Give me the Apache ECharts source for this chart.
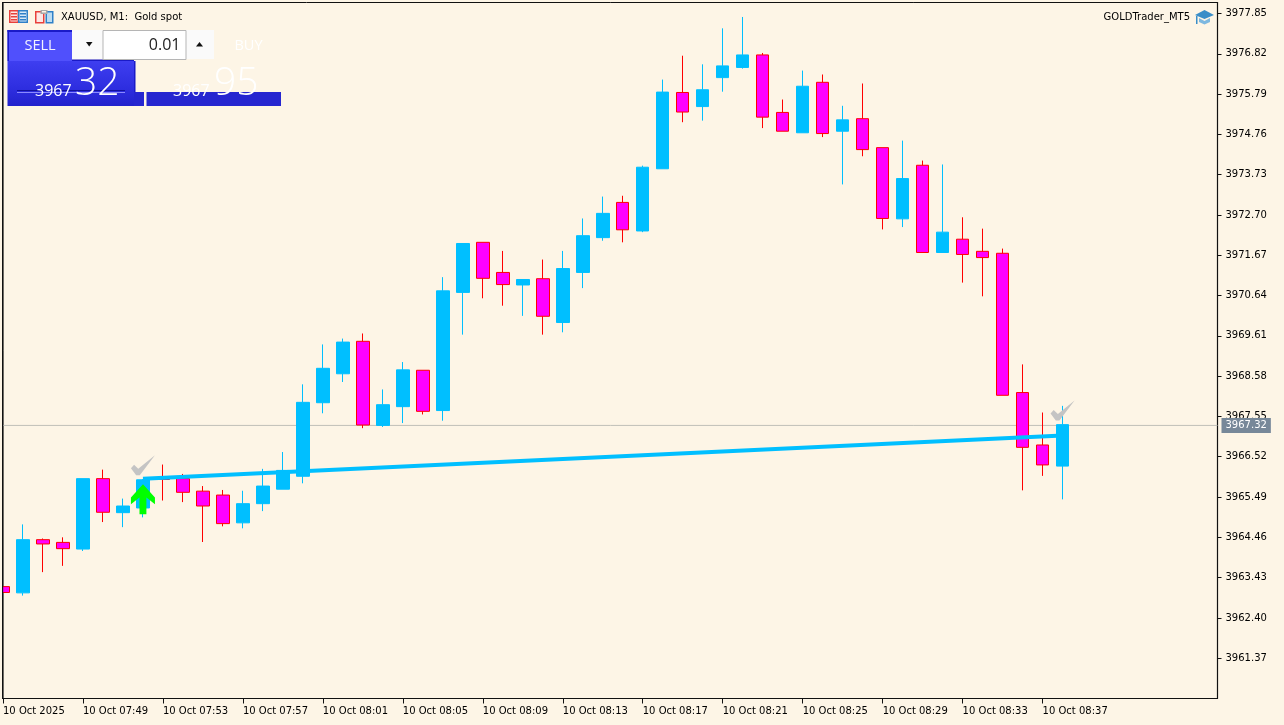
<!DOCTYPE html>
<html>
<head>
<meta charset="utf-8">
<title>XAUUSD, M1</title>
<script src="https://cdn.jsdelivr.net/npm/echarts@6/dist/echarts.min.js"></script>
<style>
  html, body { margin: 0; padding: 0; background: #fdf5e6; }
  #main { width: 1284px; height: 725px; }
</style>
</head>
<body>
<div id="main"></div>
<script>
// one candle per minute, index 0 = 07:45
const opens = [3963.20,3963.04,3964.40,3964.33,3964.16,3965.96,3965.09,3965.21,3965.99,3965.96,3965.64,3965.54,3964.83,3965.32,3965.69,3966.02,3967.90,3968.64,3969.47,3967.32,3967.80,3968.73,3967.70,3970.72,3972.00,3971.23,3970.91,3971.07,3969.95,3971.23,3972.12,3973.02,3972.29,3973.88,3975.83,3975.47,3976.21,3976.47,3976.79,3975.32,3974.80,3976.09,3974.84,3975.16,3974.42,3972.60,3973.97,3971.74,3972.08,3971.77,3971.72,3968.16,3966.82,3966.28];
const closes = [3963.05,3964.40,3964.29,3964.17,3965.96,3965.10,3965.26,3965.93,3965.94,3965.61,3965.26,3964.81,3965.32,3965.77,3966.17,3967.91,3968.78,3969.45,3967.33,3967.85,3968.74,3967.68,3970.76,3971.97,3971.08,3970.92,3971.05,3970.11,3971.33,3972.17,3972.74,3972.32,3973.92,3975.84,3975.33,3975.90,3976.51,3976.79,3975.20,3974.84,3975.99,3974.78,3975.13,3974.37,3972.61,3973.63,3971.74,3972.26,3971.69,3971.61,3968.09,3966.76,3966.31,3967.34];
const lows = [3963.05,3962.97,3963.57,3963.73,3964.11,3964.85,3964.72,3964.97,3965.40,3965.36,3964.34,3964.74,3964.69,3965.13,3965.69,3965.84,3967.63,3968.43,3967.25,3967.28,3967.38,3967.60,3967.44,3969.64,3970.57,3970.38,3970.12,3969.64,3969.70,3970.83,3972.04,3972.00,3972.26,3973.88,3975.07,3975.11,3975.85,3976.44,3974.92,3974.84,3974.80,3974.69,3973.48,3974.20,3972.33,3972.39,3971.74,3971.74,3970.97,3970.62,3968.09,3965.66,3966.03,3965.43];
const highs = [3963.20,3964.79,3964.43,3964.46,3965.96,3966.19,3965.45,3965.95,3966.32,3966.08,3965.77,3965.67,3965.65,3966.21,3966.64,3968.37,3969.39,3969.54,3969.67,3968.24,3968.94,3968.73,3971.11,3971.97,3972.00,3971.78,3971.05,3971.56,3971.78,3972.61,3973.17,3973.19,3973.96,3976.16,3976.77,3976.55,3977.47,3977.76,3976.84,3975.65,3976.39,3976.29,3975.49,3976.06,3974.42,3974.60,3974.09,3973.99,3972.64,3972.35,3971.84,3968.88,3967.65,3967.82];

const priceTicks = [3977.85,3976.82,3975.79,3974.76,3973.73,3972.70,3971.67,3970.64,3969.61,3968.58,3967.55,3966.52,3965.49,3964.46,3963.43,3962.40,3961.37];
const timeTickIdx = [0,4,8,12,16,20,24,28,32,36,40,44,48,52];
const timeTicks = ["10 Oct 2025","10 Oct 07:49","10 Oct 07:53","10 Oct 07:57","10 Oct 08:01","10 Oct 08:05","10 Oct 08:09","10 Oct 08:13","10 Oct 08:17","10 Oct 08:21","10 Oct 08:25","10 Oct 08:29","10 Oct 08:33","10 Oct 08:37"];

const bidPrice = 3967.32;
const trendIdx = [7, 53];
const trendPrice = [3965.96, 3967.06];
const arrowAt = [7, 3965.43];
const checkIdx = [7, 53];
const checkPrice = [3966.30, 3967.70];

const candleData = opens.map((o, i) => [i, o, closes[i], lows[i], highs[i]]);
const FONT = '"DejaVu Sans", Verdana, sans-serif';
const THIN = '"Open Sans", "Noto Sans", sans-serif';

const ARROW = "path://M11.7 0L23.3 13L23.3 19.7L15 13L15 29.7L8.3 29.7L8.3 13L0 19.7L0 13Z";
const CHECK = "path://M0 13L3 9.5L7 13.5L23 0L8.5 20L5 20Z";

function rect(x, y, w, h, fill, extra) {
  return { type: "rect", silent: true, z: 100, shape: { x, y, width: w, height: h }, style: Object.assign({ fill }, extra || {}) };
}
function label(text, x, y, font, fill, align) {
  return {
    type: "text", silent: true, z: 100, x, y,
    style: { text, font, fill, textAlign: align || "left", textVerticalAlign: "middle" },
  };
}
function tri(points, fill) {
  return { type: "polygon", silent: true, z: 100, shape: { points }, style: { fill } };
}

const blueGrad = new echarts.graphic.LinearGradient(0, 0, 0, 1, [
  { offset: 0, color: "#3e3ef0" },
  { offset: 0.6, color: "#2e2ee0" },
  { offset: 1, color: "#2222cc" },
]);

// trade panel, window icons, expert name
const panel = [
  // candle 0 sticks out left of the frame, mask it
  rect(0, 2, 2, 700, "#fdf5e6"),
  rect(2, 2, 1.2, 697, "#111"),

  // title icons
  rect(9, 10, 10, 13, "#e8403c"),
  rect(10.5, 11.5, 7, 10, "#fde8e6"),
  rect(11, 13, 6, 1.5, "#e8403c"), rect(11, 16, 6, 1.5, "#e8403c"), rect(11, 19, 6, 1.5, "#e8403c"),
  rect(18, 10, 10, 13, "#2f80c8"),
  rect(19.5, 11.5, 7, 10, "#d6e8f7"),
  rect(20, 13, 6, 1.5, "#2f80c8"), rect(20, 16, 6, 1.5, "#2f80c8"), rect(20, 19, 6, 1.5, "#2f80c8"),

  rect(35, 11, 9.5, 12.5, "#e8403c"),
  rect(36.5, 12.5, 6.5, 9.5, "#fde8e6"),
  rect(45.5, 11, 8, 12.5, "#2f80c8"),
  rect(47, 12.5, 5, 9.5, "#bcdcf2"),
  rect(40.5, 10, 7, 4, "#a8a8a8"),
  rect(42, 11, 4, 1.5, "#fdf5e6"),
  label("XAUUSD, M1:  Gold spot", 61, 17.5, "10px " + FONT, "#000"),

  // sell block
  rect(7.5, 30, 64.5, 31, "#5050fc"),
  rect(7.5, 30, 64.5, 2, "#1a1ac8"),
  rect(7.5, 30, 1.5, 31, "#1a1ac8"),
  rect(7.5, 61, 126.5, 45, blueGrad),
  rect(134, 92, 10, 14, "#2626d0"),
  rect(134, 61, 1.5, 31, "#1a1ac8"),
  rect(72, 59.5, 62, 1.5, "#1a1ac8"),
  // buy block
  rect(146.5, 92, 134.5, 14, "#2626d0"),

  // lot controls
  rect(72, 30, 142, 29, "#fafafa"),
  rect(103, 30.5, 83, 29, "#ffffff", { stroke: "#b5b5b5", lineWidth: 1 }),
  tri([[86, 42], [92.5, 42], [89.2, 46.5]], "#111"),
  tri([[196, 46.5], [203, 46.5], [199.5, 42]], "#111"),
  label("0.01", 180.5, 45.5, "16px " + THIN, "#222", "right"),

  label("SELL", 40, 46, "14.5px " + THIN, "#f2f2ff", "center"),
  label("BUY", 248.5, 46, "14.5px " + THIN, "#ffffff", "center"),

  rect(17, 90, 108, 1, "#12129a"),
  rect(17, 92, 108, 1, "#8a8aff"),
  label("3967", 35, 91.5, "16px " + THIN, "#ffffff"),
  label("32", 75, 84, "300 39px " + THIN, "#ffffff"),
  label("3967", 173, 91.5, "16px " + THIN, "#ffffff"),
  label("95", 214, 84, "300 39px " + THIN, "#ffffff"),

  // expert name and cap
  label("GOLDTrader_MT5", 1190, 17.5, "10px " + FONT, "#000", "right"),
  tri([[1195, 15], [1204.5, 10], [1214, 15], [1204.5, 19]], "#3a8ec8"),
  tri([[1199, 18], [1204.5, 21], [1210, 18], [1210, 22], [1204.5, 24.5], [1199, 22]], "#7db8e0"),
  rect(1196, 16, 1.5, 8, "#3a8ec8"),
];

const chart = echarts.init(document.getElementById("main"));
chart.setOption({
  animation: false,
  backgroundColor: "#fdf5e6",
  textStyle: { fontFamily: FONT },
  grid: { left: 2.5, top: 2.5, width: 1215, height: 696, show: true, borderColor: "#111", borderWidth: 1, backgroundColor: "transparent" },
  xAxis: {
    type: "value",
    min: 0,
    max: 60.75,
    splitLine: { show: false },
    axisLine: { show: true, onZero: false, lineStyle: { color: "#111", width: 1.2 } },
    axisTick: { show: true, length: 5, inside: false, lineStyle: { color: "#111" }, customValues: timeTickIdx },
    axisLabel: {
      color: "#000",
      fontSize: 10,
      fontFamily: FONT,
      margin: 8,
      align: "left",
      showMinLabel: true,
      customValues: timeTickIdx,
      formatter: (v) => timeTicks[timeTickIdx.indexOf(v)] || "",
    },
  },
  yAxis: {
    type: "value",
    position: "right",
    min: 3960.34,
    max: 3978.13,
    splitLine: { show: false },
    axisLine: { show: true, onZero: false, lineStyle: { color: "#111", width: 1.2 } },
    axisTick: { show: true, length: 4, lineStyle: { color: "#111" }, customValues: priceTicks },
    axisLabel: {
      color: "#000",
      fontSize: 10,
      fontFamily: FONT,
      margin: 8,
      customValues: priceTicks,
      formatter: (v) => v.toFixed(2),
    },
  },
  series: [
    {
      name: "bid",
      type: "line",
      z: 1,
      symbol: "none",
      silent: true,
      data: [[0, bidPrice], [60.75, bidPrice]],
      lineStyle: { color: "#c0c0b8", width: 1 },
      endLabel: {
        show: true,
        formatter: () => bidPrice.toFixed(2),
        color: "#fff",
        fontSize: 10,
        fontFamily: FONT,
        backgroundColor: "#778899",
        padding: [3, 4, 2, 4],
        distance: 4,
      },
    },
    {
      name: "XAUUSD",
      type: "candlestick",
      z: 2,
      barWidth: 13,
      data: candleData,
      itemStyle: {
        color: "#00bfff",
        borderColor: "#00bfff",
        color0: "#ff00ff",
        borderColor0: "#ff0000",
        borderWidth: 1,
      },
    },
    {
      name: "trend",
      type: "line",
      z: 3,
      symbol: "none",
      silent: true,
      data: trendIdx.map((x, i) => [x, trendPrice[i]]),
      lineStyle: { color: "#00bfff", width: 4 },
    },
    {
      name: "signal",
      type: "scatter",
      z: 4,
      silent: true,
      symbol: ARROW,
      symbolSize: [24, 30],
      data: [arrowAt],
      itemStyle: { color: "#00ff00", opacity: 1 },
    },
    {
      name: "checks",
      type: "scatter",
      z: 4,
      silent: true,
      symbol: CHECK,
      symbolSize: [24, 20],
      data: checkIdx.map((x, i) => [x, checkPrice[i]]),
      itemStyle: { color: "#c4c4c4", opacity: 1 },
    },
  ],
  graphic: panel,
});
</script>
</body>
</html>
